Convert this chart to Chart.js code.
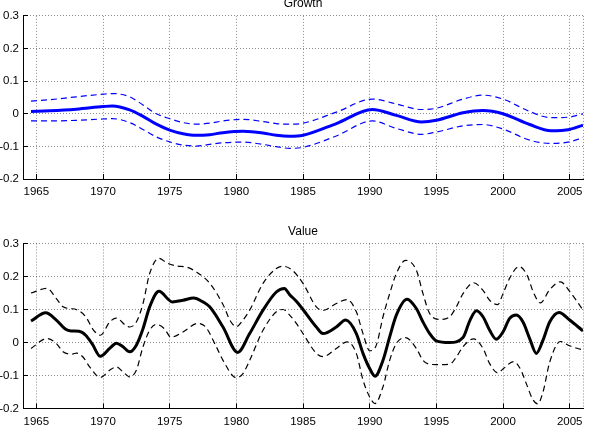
<!DOCTYPE html>
<html>
<head>
<meta charset="utf-8">
<script src="https://cdn.jsdelivr.net/npm/chart.js@4/dist/chart.umd.min.js"></script>
<style>
  html, body { margin: 0; padding: 0; background: #fff; width: 594px; height: 430px; overflow: hidden; }
  canvas { position: absolute; left: 0; }
  #c1 { top: 0; }
  #c2 { top: 215px; }
</style>
</head>
<body>
<canvas id="c1" width="594" height="215"></canvas>
<canvas id="c2" width="594" height="215"></canvas>
<script>
// ---------- DATA ----------
const xTickYears = [1965, 1970, 1975, 1980, 1985, 1990, 1995, 2000, 2005];
const yTickValues = [-0.2, -0.1, 0, 0.1, 0.2, 0.3];

// Growth panel
const growthX = [1964.6, 1966, 1968, 1970, 1970.7, 1972, 1973, 1974, 1975, 1976, 1977, 1978, 1979, 1980.5, 1982, 1983, 1984, 1985, 1987.5, 1990.2, 1992, 1993.9, 1995, 1997, 1998.5, 2000, 2002, 2003.6, 2005, 2006];
const growthMid = [0.007, 0.009, 0.014, 0.022, 0.024, 0.012, -0.008, -0.032, -0.050, -0.061, -0.066, -0.064, -0.058, -0.054, -0.059, -0.066, -0.069, -0.066, -0.030, 0.013, -0.005, -0.025, -0.020, 0.003, 0.010, 0.000, -0.033, -0.052, -0.048, -0.035];
const growthUpper = [0.039, 0.043, 0.052, 0.060, 0.062, 0.052, 0.027, 0.000, -0.015, -0.027, -0.032, -0.029, -0.022, -0.017, -0.024, -0.030, -0.032, -0.029, 0.005, 0.045, 0.030, 0.013, 0.017, 0.045, 0.057, 0.045, 0.007, -0.012, -0.010, 0.000];
const growthLower = [-0.022, -0.022, -0.020, -0.016, -0.015, -0.027, -0.048, -0.071, -0.086, -0.096, -0.099, -0.094, -0.089, -0.087, -0.094, -0.101, -0.106, -0.103, -0.068, -0.022, -0.045, -0.063, -0.056, -0.037, -0.033, -0.047, -0.081, -0.091, -0.086, -0.073];

// Value panel
const valueMidX = [1964.6, 1965.7, 1966.5, 1967.2, 1967.6, 1968.2, 1968.7, 1969.2, 1969.8, 1970.5, 1971, 1971.5, 1972, 1972.5, 1973, 1973.5, 1974.2, 1975.2, 1976, 1976.8, 1977.5, 1978, 1979, 1980.1, 1981, 1982, 1983, 1983.6, 1984, 1984.5, 1985, 1986, 1986.5, 1987.5, 1988.2, 1989, 1989.5, 1990, 1990.4, 1991, 1991.5, 1992, 1992.8, 1993.5, 1994, 1994.5, 1995, 1996, 1997, 1997.5, 1998, 1998.5, 1999, 1999.5, 2000, 2000.5, 2001, 2001.5, 2002, 2002.5, 2003, 2003.5, 2004.2, 2005, 2006];
const valueMid = [0.065, 0.090, 0.068, 0.040, 0.035, 0.034, 0.022, -0.005, -0.042, -0.018, -0.002, -0.013, -0.028, -0.008, 0.042, 0.108, 0.155, 0.123, 0.128, 0.135, 0.123, 0.108, 0.047, -0.030, 0.027, 0.098, 0.153, 0.164, 0.145, 0.125, 0.100, 0.047, 0.027, 0.047, 0.068, 0.027, -0.033, -0.079, -0.102, -0.054, 0.017, 0.083, 0.131, 0.103, 0.062, 0.027, 0.005, 0.000, 0.015, 0.065, 0.096, 0.078, 0.037, 0.010, 0.032, 0.073, 0.083, 0.062, 0.012, -0.033, 0.007, 0.062, 0.091, 0.068, 0.035];

const valueUpperX = [1964.6, 1965.8, 1966.5, 1967, 1967.5, 1968, 1968.7, 1969.3, 1969.8, 1970.5, 1971, 1971.7, 1972, 1972.5, 1973, 1973.5, 1974.2, 1974.8, 1975.5, 1976.3, 1977, 1978, 1979, 1979.6, 1980, 1980.5, 1981, 1982, 1983, 1983.5, 1984.2, 1985, 1986, 1986.5, 1987.5, 1988.3, 1989, 1989.5, 1990, 1990.5, 1991, 1991.5, 1992, 1992.7, 1993.5, 1994, 1994.5, 1995.3, 1996, 1996.5, 1997, 1997.8, 1998.5, 1999, 1999.6, 2000, 2000.5, 2001.2, 2001.8, 2002.3, 2002.8, 2003.5, 2004.3, 2005, 2006];
const valueUpper = [0.150, 0.164, 0.133, 0.108, 0.103, 0.100, 0.078, 0.037, 0.022, 0.062, 0.074, 0.052, 0.047, 0.062, 0.118, 0.209, 0.255, 0.241, 0.232, 0.228, 0.214, 0.180, 0.115, 0.062, 0.048, 0.068, 0.098, 0.179, 0.224, 0.231, 0.219, 0.179, 0.108, 0.097, 0.118, 0.130, 0.093, 0.027, -0.025, -0.008, 0.078, 0.148, 0.209, 0.249, 0.219, 0.148, 0.088, 0.070, 0.078, 0.108, 0.148, 0.181, 0.158, 0.128, 0.115, 0.148, 0.195, 0.230, 0.205, 0.150, 0.120, 0.160, 0.184, 0.155, 0.098];

const valueLowerX = [1964.6, 1965.8, 1966.5, 1967, 1967.7, 1968, 1968.5, 1969, 1969.8, 1970.5, 1971, 1971.5, 1972, 1972.5, 1973, 1973.5, 1974, 1974.6, 1975.1, 1976, 1977.1, 1977.7, 1978.5, 1979, 1980, 1980.5, 1981, 1982, 1983, 1983.5, 1984, 1984.5, 1985, 1986, 1986.5, 1987.5, 1988.3, 1989, 1989.5, 1990, 1990.4, 1991, 1991.5, 1992, 1992.7, 1993.5, 1994, 1994.5, 1995, 1996, 1996.5, 1997, 1997.8, 1998.5, 1999, 1999.6, 2000, 2000.8, 2001.3, 2001.8, 2002.2, 2002.6, 2003, 2003.5, 2004.3, 2005, 2006];
const valueLower = [-0.018, 0.012, -0.003, -0.028, -0.035, -0.032, -0.044, -0.074, -0.106, -0.084, -0.074, -0.089, -0.104, -0.084, -0.013, 0.037, 0.055, 0.042, 0.016, 0.032, 0.058, 0.047, -0.013, -0.054, -0.107, -0.094, -0.054, 0.037, 0.093, 0.100, 0.083, 0.058, 0.027, -0.033, -0.043, -0.018, 0.002, -0.033, -0.114, -0.165, -0.185, -0.134, -0.054, -0.003, 0.015, -0.018, -0.054, -0.066, -0.067, -0.066, -0.044, -0.013, 0.011, -0.018, -0.064, -0.092, -0.080, -0.058, -0.080, -0.130, -0.170, -0.186, -0.150, -0.060, 0.003, -0.010, -0.023];

// ---------- CHART SETUP ----------
Chart.defaults.font.family = '"Liberation Sans", Arial, Helvetica, sans-serif';
Chart.defaults.font.size = 11.5;
Chart.defaults.color = '#000';

const pts = (xs, ys) => xs.map((x, i) => ({ x: x, y: ys[i] }));

const titlePlugin = {
  id: 'panelTitle',
  afterDraw(chart, args, opts) {
    const a = chart.chartArea, ctx = chart.ctx;
    ctx.save();
    ctx.font = '12px "Liberation Sans", Arial, sans-serif';
    ctx.fillStyle = '#000';
    ctx.textAlign = 'center';
    ctx.textBaseline = 'alphabetic';
    ctx.fillText(opts.text, (a.left + a.right) / 2, a.top - 8.5);
    ctx.restore();
  }
};

function makeChart(id, title, color, mid, upper, lower, padTop, xHeight) {
  const lineBase = { pointRadius: 0, borderColor: color, fill: false, cubicInterpolationMode: 'monotone' };
  return new Chart(document.getElementById(id), {
    type: 'line',
    data: {
      datasets: [
        Object.assign({}, lineBase, { data: upper, borderWidth: 1.2, borderDash: [6, 4] }),
        Object.assign({}, lineBase, { data: lower, borderWidth: 1.2, borderDash: [6, 4] }),
        Object.assign({}, lineBase, { data: mid, borderWidth: 3 })
      ]
    },
    plugins: [titlePlugin],
    options: {
      responsive: false,
      animation: false,
      layout: { padding: { top: padTop, right: 5, bottom: 0, left: 0 } },
      plugins: { legend: { display: false }, tooltip: { enabled: false }, panelTitle: { text: title } },
      scales: {
        x: {
          type: 'linear', min: 1964, max: 2006,
          afterBuildTicks: s => { s.ticks = xTickYears.concat([2006]).map(v => ({ value: v })); },
          afterFit: s => { s.height = xHeight; },
          ticks: { autoSkip: false, maxRotation: 0, padding: 11, callback: v => (v === 2006 ? '' : String(v)) },
          grid: {
            color: 'rgba(0,0,0,0.45)', lineWidth: 1,
            tickLength: -5, tickColor: c => (c.tick && c.tick.value === 2006 ? 'rgba(0,0,0,0)' : '#000'), tickBorderDash: []
          },
          border: { display: true, color: '#000', width: 1, dash: [1, 2] }
        },
        y: {
          min: -0.2, max: 0.3,
          afterBuildTicks: s => { s.ticks = yTickValues.map(v => ({ value: v })); },
          afterFit: s => { s.width = 23; },
          ticks: { padding: 9, callback: v => String(Math.round(v * 10) / 10) },
          grid: { color: 'rgba(0,0,0,0.45)', lineWidth: 1, tickLength: -5, tickColor: '#000', tickBorderDash: [] },
          border: { display: true, color: '#000', width: 1, dash: [1, 2] }
        }
      }
    }
  });
}

makeChart('c1', 'Growth', '#0000ff', pts(growthX, growthMid), pts(growthX, growthUpper), pts(growthX, growthLower), 14, 36);
makeChart('c2', 'Value', '#000000', pts(valueMidX, valueMid), pts(valueUpperX, valueUpper), pts(valueLowerX, valueLower), 28.5, 21.5);
</script>
</body>
</html>
